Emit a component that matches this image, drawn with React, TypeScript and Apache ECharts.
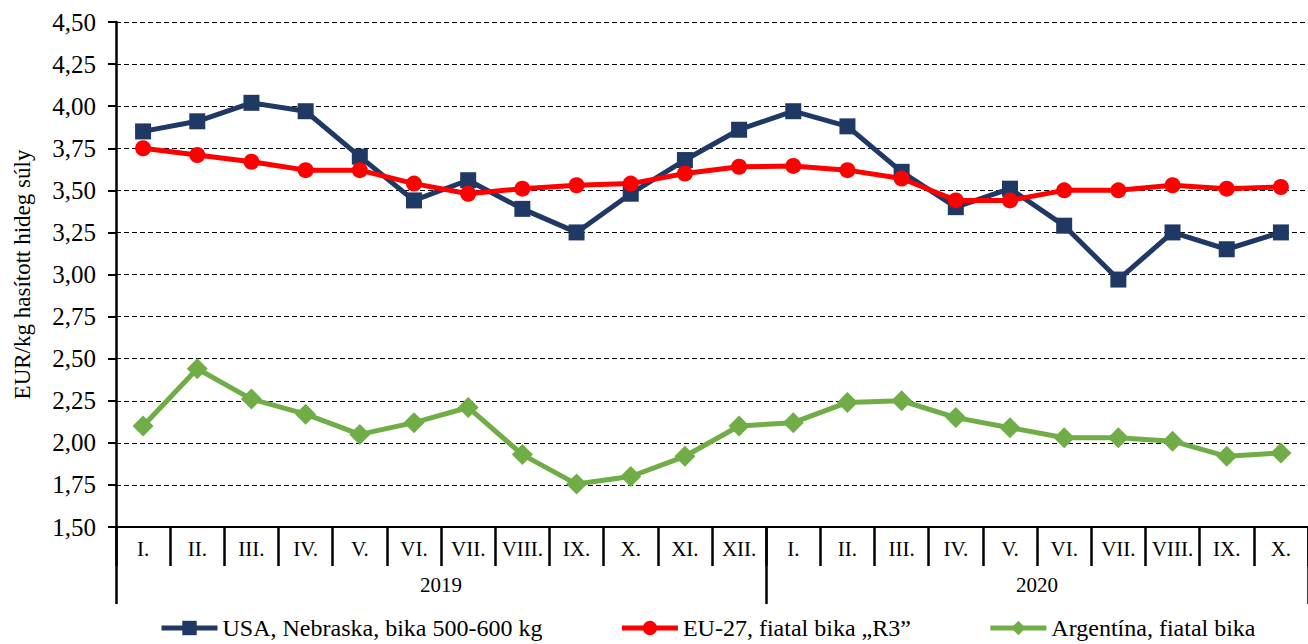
import React, { useEffect, useRef } from "react";
import * as echarts from "echarts";

const months = [
  "I.", "II.", "III.", "IV.", "V.", "VI.", "VII.", "VIII.", "IX.", "X.", "XI.", "XII.",
  "I.", "II.", "III.", "IV.", "V.", "VI.", "VII.", "VIII.", "IX.", "X.",
];
const yearLabels = ["2019", "2020"];
const yearLabelPositions = [6, 17];
const yearBoundaries = [0, 12, 22];

const usa = [3.85, 3.91, 4.02, 3.97, 3.70, 3.44, 3.56, 3.39, 3.25, 3.48, 3.68, 3.86,
  3.97, 3.88, 3.61, 3.40, 3.51, 3.29, 2.97, 3.25, 3.15, 3.25];
const eu = [3.75, 3.71, 3.67, 3.62, 3.62, 3.54, 3.48, 3.51, 3.53, 3.54, 3.60, 3.64,
  3.645, 3.62, 3.57, 3.44, 3.44, 3.50, 3.50, 3.53, 3.51, 3.52];
const argentina = [2.10, 2.44, 2.26, 2.17, 2.05, 2.12, 2.21, 1.93, 1.755, 1.80, 1.92, 2.10,
  2.12, 2.24, 2.25, 2.15, 2.09, 2.03, 2.03, 2.01, 1.92, 1.94];

const seriesNames = [
  "USA, Nebraska, bika 500-600 kg",
  "EU-27, fiatal bika \u201eR3\u201d",
  "Argent\u00edna, fiatal bika",
];

const FONT = "'Liberation Serif', 'Times New Roman', serif";

export default function App() {
  const ref = useRef<HTMLDivElement>(null);
  useEffect(() => {
    if (!ref.current) return;
    const chart = echarts.init(ref.current, null, { renderer: "svg" });
    chart.setOption({
      animation: false,
      backgroundColor: "#ffffff",
      textStyle: { fontFamily: FONT, color: "#000" },
      grid: { left: 116, top: 22, width: 1200, height: 505, containLabel: false },
      legend: {
        bottom: -1,
        left: 154,
        itemWidth: 56,
        itemHeight: 18,
        itemGap: 77,
        lineStyle: { width: 5 },
        textStyle: { fontFamily: FONT, fontSize: 24, color: "#000" },
        data: seriesNames,
      },
      xAxis: [
        {
          type: "category",
          data: months,
          boundaryGap: true,
          axisLine: { lineStyle: { color: "#000", width: 2 } },
          axisTick: { show: true, interval: 0, length: 39, lineStyle: { color: "#000", width: 2.5 } },
          axisLabel: { interval: 0, margin: 11, fontSize: 21, fontFamily: FONT, color: "#000" },
          splitLine: { show: false },
        },
        {
          type: "value",
          min: 0,
          max: 22,
          position: "bottom",
          axisLine: { show: false },
          axisTick: { show: true, customValues: yearBoundaries, length: 77, lineStyle: { color: "#000", width: 2.5 } },
          axisLabel: {
            show: true,
            customValues: yearLabelPositions,
            margin: 47,
            fontSize: 21,
            fontFamily: FONT,
            color: "#000",
            formatter: (v: number) => yearLabels[yearLabelPositions.indexOf(v)] ?? "",
          },
          splitLine: { show: false },
        },
      ],
      yAxis: {
        type: "value",
        min: 1.5,
        max: 4.5,
        interval: 0.25,
        name: "EUR/kg has\u00edtott hideg s\u00faly",
        nameLocation: "middle",
        nameGap: 82,
        nameTextStyle: { fontFamily: FONT, fontSize: 23, color: "#000" },
        axisLine: { show: true, lineStyle: { color: "#000", width: 2.5 } },
        axisTick: { show: true, length: 8, lineStyle: { color: "#000", width: 2 } },
        axisLabel: {
          fontSize: 25,
          fontFamily: FONT,
          color: "#000",
          margin: 20,
          formatter: (v: number) => v.toFixed(2).replace(".", ","),
        },
        splitLine: { show: true, lineStyle: { color: "#000", type: [5, 3], width: 1 } },
      },
      series: [
        {
          name: seriesNames[0],
          type: "line",
          data: usa,
          symbol: "rect",
          symbolSize: 16,
          color: "#1F3864",
          lineStyle: { width: 5, color: "#1F3864" },
          itemStyle: { color: "#1F3864" },
        },
        {
          name: seriesNames[1],
          type: "line",
          data: eu,
          symbol: "circle",
          symbolSize: 16,
          color: "#FF0000",
          lineStyle: { width: 5, color: "#FF0000" },
          itemStyle: { color: "#FF0000" },
        },
        {
          name: seriesNames[2],
          type: "line",
          data: argentina,
          symbol: "diamond",
          symbolSize: 21,
          color: "#70AD47",
          lineStyle: { width: 5, color: "#70AD47" },
          itemStyle: { color: "#70AD47" },
        },
      ],
    });
    return () => chart.dispose();
  }, []);
  return (
    <div
      ref={ref}
      style={{ position: "absolute", left: 0, top: 0, width: 1308, height: 644, background: "#fff" }}
    />
  );
}
